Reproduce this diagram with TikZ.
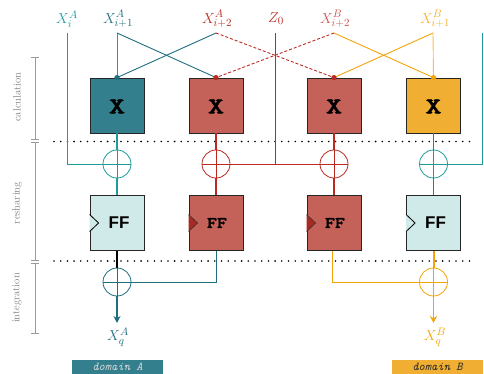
\documentclass[tikz,border=0pt]{standalone}
\usepackage{fontspec}
\newfontfamily\sansfam{Liberation Sans}
\newfontfamily\ttbold{lmmonolt10-bold.otf}
\newfontfamily\ttbolder{lmmonolt10-bold.otf}[FakeBold=1.5]
\usetikzlibrary{shadows,arrows.meta}
\definecolor{tealbox}{HTML}{347F8E}
\definecolor{redbox}{HTML}{C4625A}
\definecolor{yelbox}{HTML}{F0AF33}
\definecolor{cyanbox}{HTML}{D0E9E9}
\definecolor{tealL}{HTML}{1E9C9C}
\definecolor{tealD}{HTML}{1E6E80}
\definecolor{redL}{HTML}{BA2A22}
\definecolor{yelL}{HTML}{F2A40A}
\definecolor{axgrey}{HTML}{9A9A9A}
\definecolor{clkred}{HTML}{A82A22}
\tikzset{
  opbox/.style={draw=black!85, line width=0.8pt, minimum width=54pt, minimum height=55pt, inner sep=0pt,
    drop shadow={shadow xshift=0.9pt, shadow yshift=-0.9pt, opacity=0.35, fill=black!45}},
  xorc/.style={circle, draw=#1, minimum size=28pt, inner sep=0pt, line width=0.8pt,
    path picture={\draw[#1, line width=0.8pt] (path picture bounding box.north) -- (path picture bounding box.south)
      (path picture bounding box.west) -- (path picture bounding box.east);}},
  toplab/.style={font=\fontsize{15.5}{18}\selectfont, inner sep=0pt},
  xtxt/.style={font=\ttbolder\fontsize{23}{25}\selectfont, xscale=1.35},
  fftt/.style={font=\ttbolder\fontsize{16}{18}\selectfont, xscale=1.2},
  ffsf/.style={font=\sansfam\bfseries\fontsize{17}{20}\selectfont},
  dots/.style={line width=1.8pt, line cap=round, dash pattern=on 0pt off 6.7pt, black},
  axis/.style={axgrey, line width=1pt},
  axlab/.style={rotate=90, text=axgrey!85!black, font=\fontsize{10.5}{12}\selectfont},
  thin/.style={line width=0.9pt},
  col/.style={line width=1.6pt},
  arr/.style={line width=1.4pt, -{Stealth[length=7pt,width=7pt]}},
  dom/.style={minimum width=91pt, minimum height=15pt, inner sep=0pt, font=\ttfamily\itshape\fontsize{12}{13}\selectfont}
}
\begin{document}
\begin{tikzpicture}[x=1pt,y=-1pt]
\useasboundingbox (0,0) rectangle (484,374);

% side axis
\draw[axis] (31,58) -- (39,58) (35,58) -- (35,140) (31,140) -- (39,140);
\draw[axis] (31,143) -- (39,143) (35,143) -- (35,260) (31,260) -- (39,260);
\draw[axis] (31,263) -- (39,263) (35,263) -- (35,333) (31,333) -- (39,333);
\node[axlab] (lcalc) at (17,97) {calculation};
\node[axlab] (lresh) at (17,203) {resharing};
\node[axlab] (linte) at (17,298) {integration};

% dotted separators
\draw[dots] (54,141.5) -- (476,141.5);
\draw[dots] (54,261) -- (476,261);

% top labels
\node[toplab, text=tealL] (lXiA) at (67,19) {$X_i^A$};
\node[toplab, text=tealD] (lXi1A) at (118,19) {$X_{i+1}^A$};
\node[toplab, text=redL] (lXi2A) at (217,19) {$X_{i+2}^A$};
\node[toplab, text=redL] (lZ) at (276,19) {$Z_0$};
\node[toplab, text=redL!80] (lXi2B) at (335,19) {$X_{i+2}^B$};
\node[toplab, text=yelL!85] (lXi1B) at (435,19) {$X_{i+1}^B$};

\coordinate (tXiA) at (67,33);
\coordinate (tXi1A) at (117,33);
\coordinate (tXi2A) at (216,33);
\coordinate (tZ) at (275,33);
\coordinate (tXi2B) at (334,33);
\coordinate (tXi1B) at (433,33);
\coordinate (tR) at (482,33);

% calculation boxes
\node[opbox, fill=tealbox] (x1) at (117,105.5) {};
\node[opbox, fill=redbox] (x2) at (216,105.5) {};
\node[opbox, fill=redbox] (x3) at (334,105.5) {};
\node[opbox, fill=yelbox] (x4) at (433.5,105.5) {};
\node[xtxt] at ([yshift=-1pt]x1.center) {X};
\node[xtxt] at ([yshift=-1pt]x2.center) {X};
\node[xtxt] at ([yshift=-1pt]x3.center) {X};
\node[xtxt] at ([yshift=-1pt]x4.center) {X};

% resharing XORs
\node[xorc=tealL] (o1) at (117,164) {};
\node[xorc=redL] (o2) at (216,164) {};
\node[xorc=redL] (o3) at (334,164) {};
\node[xorc=tealL] (o4) at (433.5,164) {};

% FF boxes
\node[opbox, fill=cyanbox] (f1) at (117,223) {};
\node[opbox, fill=redbox] (f2) at (216,223) {};
\node[opbox, fill=redbox] (f3) at (334,223) {};
\node[opbox, fill=cyanbox] (f4) at (433.5,223) {};
\node[ffsf] at ([xshift=2pt]f1.center) {FF};
\node[fftt] at ([xshift=1pt]f2.center) {FF};
\node[fftt] at ([xshift=1pt]f3.center) {FF};
\node[ffsf] at ([xshift=2pt]f4.center) {FF};
\draw[line width=0.8pt, fill=cyanbox] ([yshift=8.5pt]f1.west) -- ([xshift=9pt]f1.west) -- ([yshift=-8.5pt]f1.west);
\draw[line width=0.6pt, draw=black!80, fill=clkred] ([yshift=8.5pt]f2.west) -- ([xshift=9pt]f2.west) -- ([yshift=-8.5pt]f2.west);
\draw[line width=0.6pt, draw=black!80, fill=clkred] ([yshift=8.5pt]f3.west) -- ([xshift=9pt]f3.west) -- ([yshift=-8.5pt]f3.west);
\draw[line width=0.8pt, fill=cyanbox] ([yshift=8.5pt]f4.west) -- ([xshift=9pt]f4.west) -- ([yshift=-8.5pt]f4.west);

% integration XORs
\node[xorc=tealD] (oA) at (117,282) {};
\node[xorc=yelL] (oB) at (433.5,282) {};

% outputs
\node[toplab, text=tealD] (qA) at (118,337) {$X_q^A$};
\node[toplab, text=yelL] (qB) at (435,337) {$X_q^B$};
\coordinate (aA) at (117,323);
\coordinate (aB) at (433.5,323);

% domain labels
\node[dom, fill=tealbox, text=white!85!black] (dA) at (117.5,367) {domain A};
\node[dom, fill=yelbox, text=black!85] (dB) at (437.5,367) {domain B};

% input wiring
\draw[thin, tealL] (tXiA) |- (o1);
\draw[thin, tealL!65!gray] (tXi1A) -- (x1.north);
\draw[thin, tealD] (tXi1A) -- (x2.north);
\draw[thin, tealD] (tXi2A) -- (x1.north);
\draw[thin, redL, dash pattern=on 3pt off 2pt] (tXi2A) -- (x3.north);
\draw[thin, redL, dash pattern=on 3pt off 2pt] (tXi2B) -- (x2.north);
\draw[thin, yelL] (tXi2B) -- (x4.north);
\draw[thin, yelL] (tXi1B) -- (x3.north);
\draw[thin, yelL!70] (tXi1B) -- (x4.north);
\draw[thin, redL] (tZ) -- (tZ |- o2);
\draw[thin, redL] (o2) -- (o3);
\draw[thin, tealL] (tR) |- (o4);

\fill[tealD] (x1.north) circle (2.6pt);
\fill[redL] (x2.north) circle (2.6pt);
\fill[redL] (x3.north) circle (2.6pt);
\fill[yelL] (x4.north) circle (2.6pt);

% columns
\draw[col, tealL] (x1) -- (o1);
\draw[col, tealL] (o1) -- (f1);
\draw[col, redL, line width=1.1pt] (x2) -- (o2);
\draw[col, redL, line width=1.1pt] (o2) -- (f2);
\draw[col, redL, line width=1.1pt] (x3) -- (o3);
\draw[col, redL, line width=1.1pt] (o3) -- (f3);
\draw[col, tealL!85!black] (x4) -- (o4);
\draw[col, tealL!85!black] (o4) -- (f4);

% integration wiring
\draw[col, black, line width=2pt] (f1) -- (oA);
\draw[thin, tealD] (f2) |- (oA);
\draw[thin, yelL] ([xshift=-2pt]f3.south) |- (oB);
\draw[col, yelL, line width=2pt] (f4) -- (oB);
\draw[arr, tealD] (oA) -- (aA);
\draw[arr, yelL] (oB) -- (aB);
\end{tikzpicture}
\end{document}
